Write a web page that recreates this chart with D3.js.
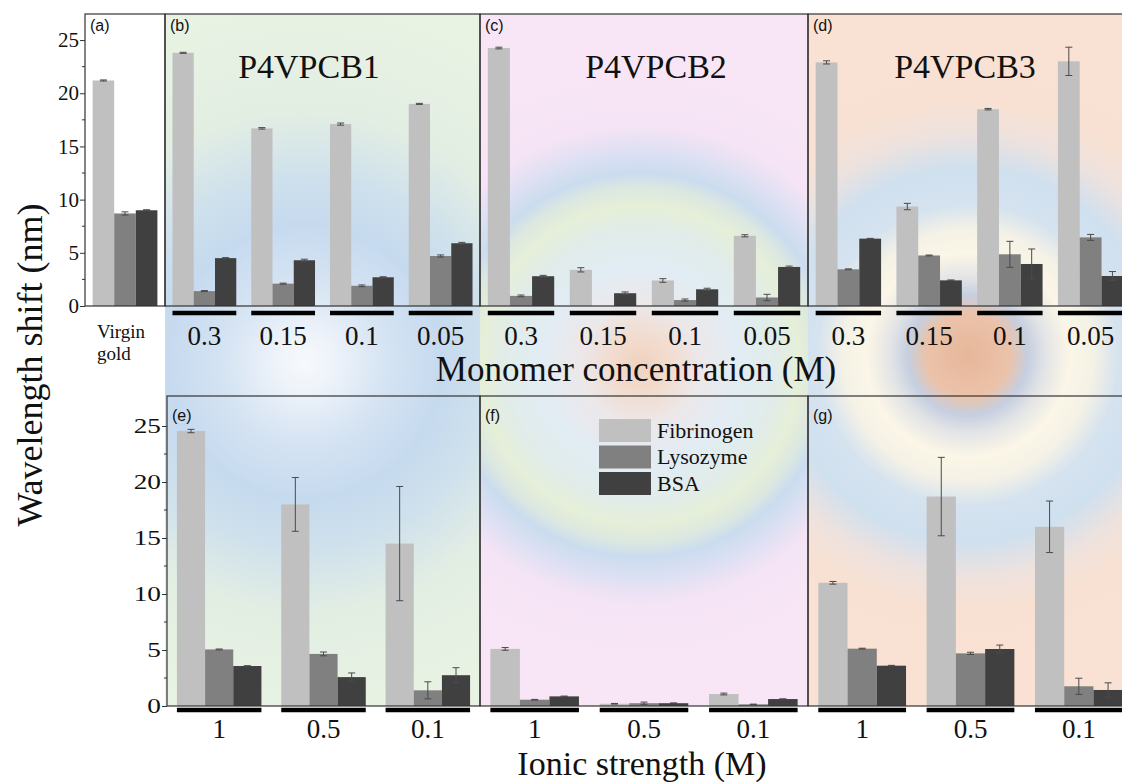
<!DOCTYPE html>
<html>
<head>
<meta charset="utf-8">
<script src="https://cdn.jsdelivr.net/npm/d3@7"></script>
<style>
  body { margin: 0; background: #fff; }
  svg { display: block; }
</style>
</head>
<body>
<svg id="chart" width="1122" height="782"></svg>
<script>
// Series (legend order)
const proteins = ['Fibrinogen', 'Lysozyme', 'BSA'];
const proteinColors = ['#c0c0c0', '#808080', '#404040'];

// Category labels
const virginCats = ['Virgin gold'];
const monomerConc = ['0.3', '0.15', '0.1', '0.05'];
const ionicStrength = ['1', '0.5', '0.1'];

// Y ticks
const yTicks = [0, 5, 10, 15, 20, 25];
const yMinorTicks = [2.5, 7.5, 12.5, 17.5, 22.5];

// Wavelength shift (nm): one array per protein [Fibrinogen, Lysozyme, BSA]
const virginGold    = [[21.2], [8.7], [9.0]];
const virginGoldErr = [[0.05], [0.15], [0.05]];

const cb1    = [[23.8, 16.7, 17.1, 19.0], [1.4, 2.1, 1.9, 4.7], [4.5, 4.3, 2.7, 5.9]];
const cb1Err = [[0.05, 0.07, 0.1, 0.05], [0.05, 0.05, 0.08, 0.1], [0.05, 0.1, 0.05, 0.08]];

const cb2    = [[24.25, 3.4, 2.4, 6.6], [0.95, 0, 0.56, 0.8], [2.8, 1.2, 1.57, 3.67]];
const cb2Err = [[0.08, 0.2, 0.17, 0.1], [0.08, 0, 0.1, 0.3], [0.08, 0.12, 0.1, 0.08]];

const cb3    = [[22.9, 9.35, 18.5, 23.0], [3.45, 4.75, 4.86, 6.45], [6.33, 2.41, 3.95, 2.82]];
const cb3Err = [[0.15, 0.3, 0.07, 1.33], [0.04, 0.04, 1.22, 0.28], [0.03, 0.04, 1.41, 0.42]];

const ionE    = [[24.55, 18.0, 14.5], [5.05, 4.65, 1.4], [3.57, 2.58, 2.75]];
const ionEErr = [[0.15, 2.4, 5.1], [0.04, 0.17, 0.76], [0.03, 0.37, 0.67]];

const ionF    = [[5.1, 0.2, 1.07], [0.56, 0.25, 0.15], [0.86, 0.25, 0.62]];
const ionFErr = [[0.12, 0.03, 0.08], [0.03, 0.1, 0.02], [0.03, 0.03, 0.02]];

const ionG    = [[11.0, 18.7, 16.0], [5.12, 4.7, 1.76], [3.6, 5.09, 1.43]];
const ionGErr = [[0.12, 3.5, 2.3], [0.04, 0.1, 0.72], [0.03, 0.35, 0.64]];

// ---- layout ----
const SERIF = '"Liberation Serif", "DejaVu Serif", serif';
const SANS = '"Liberation Sans", "DejaVu Sans", sans-serif';
const rows = {
  top:    { y0: 14,  y1: 306, max: 27.45, tagDy: 17, lineY: 313, labelY: 345 },
  bottom: { y0: 396, y1: 706, max: 27.68, tagDy: 25, lineY: 710, labelY: 738 }
};

const panels = [
  { tag: '(a)', row: 'top', x0: 85,  x1: 165,  cats: virginCats, values: virginGold, errs: virginGoldErr },
  { tag: '(b)', row: 'top', x0: 165, x1: 480,  cats: monomerConc, values: cb1, errs: cb1Err, title: 'P4VPCB1', titleX: 309 },
  { tag: '(c)', row: 'top', x0: 480, x1: 808,  cats: monomerConc, values: cb2, errs: cb2Err, title: 'P4VPCB2', titleX: 656 },
  { tag: '(d)', row: 'top', x0: 808, x1: 1131, cats: monomerConc, values: cb3, errs: cb3Err, title: 'P4VPCB3', titleX: 965 },
  { tag: '(e)', row: 'bottom', x0: 167, x1: 480,  cats: ionicStrength, values: ionE, errs: ionEErr },
  { tag: '(f)', row: 'bottom', x0: 480, x1: 808,  cats: ionicStrength, values: ionF, errs: ionFErr },
  { tag: '(g)', row: 'bottom', x0: 808, x1: 1133, cats: ionicStrength, values: ionG, errs: ionGErr }
];

// Radial background washes, one per column
const bgColumns = [
  { x0: 165, x1: 480, cx: 305, cy: 362, r: 360,
    stops: [[0, '#f7f9fc'], [0.08, '#eef3fa'], [0.22, '#d6e4f3'], [0.38, '#c6daef'], [0.52, '#cfe1ec'], [0.7, '#e3eee3'], [1, '#e9f3e3']] },
  { x0: 480, x1: 808, cx: 640, cy: 365, r: 300,
    stops: [[0, '#f0d2bf'], [0.1, '#f2dccf'], [0.2, '#ece8ea'], [0.33, '#e2ecf4'], [0.45, '#e1ecea'], [0.53, '#e6efd8'],
            [0.59, '#dce8e0'], [0.64, '#cbdcef'], [0.71, '#dde0f3'], [0.8, '#f5e4f5'], [1, '#f8e6f6']] },
  { x0: 808, x1: 1122, cx: 968, cy: 355, r: 300,
    stops: [[0, '#e7b699'], [0.14, '#ebc3aa'], [0.2, '#c6cfe0'], [0.26, '#e3e4e6'], [0.34, '#fbf6e6'], [0.42, '#f4f1e6'],
            [0.5, '#d6e3ef'], [0.62, '#cfe0ef'], [0.74, '#eee2de'], [0.85, '#f8e1d3'], [1, '#f9e2d4']] }
];

const svg = d3.select('#chart');
const defs = svg.append('defs');

// Backgrounds
bgColumns.forEach((col, i) => {
  const grad = defs.append('radialGradient')
    .attr('id', 'bg' + i)
    .attr('gradientUnits', 'userSpaceOnUse')
    .attr('cx', col.cx).attr('cy', col.cy).attr('r', col.r);
  grad.selectAll('stop')
    .data(col.stops)
    .enter()
    .append('stop')
    .attr('offset', d => d[0])
    .attr('stop-color', d => d[1]);

  svg.append('rect')
    .attr('x', col.x0)
    .attr('y', rows.top.y0)
    .attr('width', col.x1 - col.x0)
    .attr('height', rows.bottom.y1 - rows.top.y0)
    .attr('fill', `url(#bg${i})`);
});

// panel (a) sits on plain white
svg.append('rect')
  .attr('x', 85).attr('y', rows.top.y0)
  .attr('width', 80).attr('height', rows.top.y1 - rows.top.y0)
  .attr('fill', '#fff');

const yScales = {
  top: d3.scaleLinear().domain([0, rows.top.max]).range([rows.top.y1, rows.top.y0]),
  bottom: d3.scaleLinear().domain([0, rows.bottom.max]).range([rows.bottom.y1, rows.bottom.y0])
};

function serifText(sel, size) {
  return sel.attr('font-family', SERIF).attr('font-size', size).attr('fill', '#111');
}

panels.forEach(p => {
  const row = rows[p.row];
  const y = yScales[p.row];
  const x = d3.scaleBand().domain(p.cats).range([p.x0, p.x1]).paddingInner(0.19).paddingOuter(0.095);
  const xSub = d3.scaleBand().domain(proteins).range([0, x.bandwidth()]);

  const bars = [];
  p.cats.forEach((c, i) => {
    proteins.forEach((pr, j) => {
      bars.push({ cat: c, protein: pr, color: proteinColors[j], value: p.values[j][i], err: p.errs[j][i] });
    });
  });

  const g = svg.append('g').attr('class', 'panel');

  g.selectAll('rect.bar')
    .data(bars)
    .enter()
    .append('rect')
    .attr('class', 'bar')
    .attr('x', d => x(d.cat) + xSub(d.protein))
    .attr('y', d => y(d.value))
    .attr('width', xSub.bandwidth())
    .attr('height', d => y(0) - y(d.value))
    .attr('fill', d => d.color);

  // error bars
  const eb = g.selectAll('g.err')
    .data(bars.filter(d => d.err > 0))
    .enter()
    .append('g')
    .attr('class', 'err')
    .attr('stroke', '#4a4a4a')
    .attr('stroke-width', 1);
  const cx = d => x(d.cat) + xSub(d.protein) + xSub.bandwidth() / 2;
  eb.append('line')
    .attr('x1', cx).attr('x2', cx)
    .attr('y1', d => y(d.value - d.err)).attr('y2', d => y(d.value + d.err));
  eb.append('line')
    .attr('x1', d => cx(d) - 3.5).attr('x2', d => cx(d) + 3.5)
    .attr('y1', d => y(d.value + d.err)).attr('y2', d => y(d.value + d.err));
  eb.append('line')
    .attr('x1', d => cx(d) - 3.5).attr('x2', d => cx(d) + 3.5)
    .attr('y1', d => y(d.value - d.err)).attr('y2', d => y(d.value - d.err));

  // frame
  g.append('rect')
    .attr('x', p.x0).attr('y', row.y0)
    .attr('width', p.x1 - p.x0).attr('height', row.y1 - row.y0)
    .attr('fill', 'none')
    .attr('stroke', '#333')
    .attr('stroke-width', 1.2);

  g.append('text')
    .attr('x', p.x0 + 5)
    .attr('y', row.y0 + row.tagDy)
    .attr('font-family', SANS)
    .attr('font-size', 16)
    .attr('fill', '#111')
    .text(p.tag);

  if (p.title) {
    g.append('text')
      .attr('x', p.titleX)
      .attr('y', 78)
      .attr('text-anchor', 'middle')
      .call(serifText, 34)
      .text(p.title);
  }

  if (p.cats === virginCats) {
    g.append('text').attr('x', 97).attr('y', 338).call(serifText, 19).text('Virgin');
    g.append('text').attr('x', 97).attr('y', 360).call(serifText, 19).text('gold');
    return;
  }

  // group underline + category label
  g.selectAll('line.under')
    .data(p.cats)
    .enter()
    .append('line')
    .attr('class', 'under')
    .attr('x1', d => x(d)).attr('x2', d => x(d) + x.bandwidth())
    .attr('y1', row.lineY).attr('y2', row.lineY)
    .attr('stroke', '#000')
    .attr('stroke-width', 4.5);

  g.selectAll('text.cat')
    .data(p.cats)
    .enter()
    .append('text')
    .attr('class', 'cat')
    .attr('x', d => x(d) + x.bandwidth() / 2)
    .attr('y', row.labelY)
    .attr('text-anchor', 'middle')
    .call(serifText, 27)
    .text(d => d);
});

// Y axes
function drawYAxis(rowKey, xPos, stretch) {
  const y = yScales[rowKey];
  const ax = svg.append('g')
    .attr('transform', `translate(${xPos},0)`)
    .call(d3.axisLeft(y).tickValues(yTicks).tickSize(5).tickPadding(1).tickFormat(d3.format('d')));
  ax.attr('font-family', SERIF).attr('font-size', 21);
  ax.select('.domain').remove();
  ax.selectAll('line').attr('stroke', '#333');
  ax.selectAll('text')
    .attr('fill', '#111')
    .attr('x', -6 / stretch)
    .attr('transform', `scale(${stretch},1)`);

  svg.append('g')
    .attr('transform', `translate(${xPos},0)`)
    .selectAll('line')
    .data(yMinorTicks)
    .enter()
    .append('line')
    .attr('x1', -3).attr('x2', 0)
    .attr('y1', d => y(d)).attr('y2', d => y(d))
    .attr('stroke', '#333');
}
drawYAxis('top', 85, 1);
drawYAxis('bottom', 167, 1.3);

// Axis titles
svg.append('text')
  .attr('x', 636).attr('y', 381)
  .attr('text-anchor', 'middle')
  .call(serifText, 35)
  .text('Monomer concentration (M)');

svg.append('text')
  .attr('x', 642).attr('y', 775)
  .attr('text-anchor', 'middle')
  .call(serifText, 34)
  .text('Ionic strength (M)');

svg.append('text')
  .attr('transform', 'translate(42,365) rotate(-90)')
  .attr('text-anchor', 'middle')
  .call(serifText, 36)
  .text('Wavelength shift (nm)');

// Legend (inside panel f)
const legend = svg.append('g').attr('transform', 'translate(599,419)');
legend.selectAll('rect')
  .data(proteins)
  .enter()
  .append('rect')
  .attr('x', 0)
  .attr('y', (d, i) => i * 26.5)
  .attr('width', 52)
  .attr('height', 23)
  .attr('fill', (d, i) => proteinColors[i]);
legend.selectAll('text')
  .data(proteins)
  .enter()
  .append('text')
  .attr('x', 58)
  .attr('y', (d, i) => i * 26.5 + 18.5)
  .call(serifText, 22)
  .text(d => d);
</script>
</body>
</html>
